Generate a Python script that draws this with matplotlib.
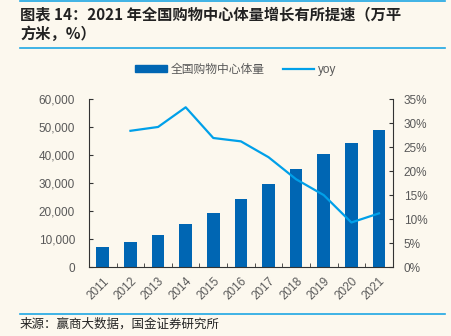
import matplotlib.pyplot as plt
from matplotlib.lines import Line2D
from matplotlib.patches import Patch
from matplotlib.ticker import FuncFormatter, MultipleLocator

plt.rcParams['font.family'] = ['Liberation Sans', 'Noto Sans CJK SC', 'DejaVu Sans']
plt.rcParams['xtick.top'] = False
plt.rcParams['xtick.minor.top'] = False
plt.rcParams['xtick.major.top'] = False

years = ["2011", "2012", "2013", "2014", "2015", "2016",
         "2017", "2018", "2019", "2020", "2021"]
volume = [7200, 8800, 11400, 15350, 19300, 24500,
          29600, 35200, 40450, 44400, 49100]
yoy_years = years[1:]
yoy = [28.4, 29.2, 33.3, 26.9, 26.2, 22.9, 18.3, 15.0, 9.3, 11.2]

bg = "#FCF8EE"
bar_color = "#0066B3"
line_color = "#00A0E9"
text_gray = "#595959"
axis_color = "#333333"

fig = plt.figure(figsize=(4.52, 3.36), dpi=100, facecolor=bg)
rect = [0.197, 0.205, 0.672, 0.50]
ax = fig.add_axes(rect)
ax.set_facecolor(bg)

x = list(range(len(years)))
ax.bar(x, volume, width=0.46, color=bar_color, zorder=2)
ax.set_xlim(-0.5, len(years) - 0.5)
ax.set_ylim(0, 60000)
ax.yaxis.set_major_locator(MultipleLocator(10000))
ax.yaxis.set_major_formatter(FuncFormatter(lambda v, p: f"{int(v):,}"))

# category labels plus small inward ticks between the bars
ax.set_xticks(x)
ax.set_xticklabels(years, rotation=45, ha="right", rotation_mode="anchor")
ax.set_xticks([i + 0.5 for i in x[:-1]], minor=True)
ax.tick_params(axis="x", which="both", top=False, labeltop=False)
ax.tick_params(axis="x", which="major", length=0, labelsize=8.5,
               labelcolor=text_gray, pad=6)
ax.tick_params(axis="x", which="minor", direction="in", length=3,
               color=axis_color)
ax.tick_params(axis="y", direction="in", length=3, labelsize=8.5,
               labelcolor=text_gray, pad=10, color=axis_color)
ax.spines["top"].set_visible(False)
ax.spines["right"].set_visible(False)
for s in ("left", "bottom"):
    ax.spines[s].set_color(axis_color)

# growth rate on its own overlay axes with the scale on the right
ax2 = fig.add_axes(rect, facecolor="none")
ax2.plot(list(range(1, len(years))), yoy, color=line_color, lw=1.6)
ax2.set_xlim(ax.get_xlim())
ax2.set_ylim(0, 35)
ax2.xaxis.set_visible(False)
ax2.yaxis.tick_right()
ax2.yaxis.set_major_locator(MultipleLocator(5))
ax2.yaxis.set_major_formatter(FuncFormatter(lambda v, p: f"{int(v)}%"))
ax2.tick_params(axis="y", direction="in", length=3, labelsize=8.5,
                labelcolor=text_gray, pad=8, color=axis_color)
for s in ("top", "left", "bottom"):
    ax2.spines[s].set_visible(False)
ax2.spines["right"].set_color(axis_color)

handles = [Patch(color=bar_color, label="全国购物中心体量"),
           Line2D([0], [0], color=line_color, lw=1.6, label="yoy")]
leg = fig.legend(handles=handles, loc="center", bbox_to_anchor=(0.522, 0.792),
                 ncol=2, frameon=False, fontsize=8.5, handlelength=2.7,
                 handleheight=0.5, columnspacing=1.5, handletextpad=0.3)
for t in leg.get_texts():
    t.set_color(text_gray)

# header and footer
cjk_font = ['Noto Sans CJK SC', 'DejaVu Sans']
fig.text(20 / 452, 1 - 14 / 336, "图表 14：2021 年全国购物中心体量增长有所提速（万平",
         fontsize=11, fontweight="bold", family=cjk_font, va="center",
         color="#222222")
fig.text(20 / 452, 1 - 34 / 336, "方米，%）",
         fontsize=11, fontweight="bold", family=cjk_font, va="center",
         color="#222222")
for y in (1, 48, 314):
    fig.add_artist(Line2D([20 / 452, 445 / 452], [1 - y / 336, 1 - y / 336],
                          color="#1EA7E4", lw=1.2, transform=fig.transFigure))
fig.text(20 / 452, 1 - 324 / 336, "来源：赢商大数据，国金证券研究所",
         fontsize=9, family=cjk_font, va="center", color="#222222")

fig.savefig("out.png", dpi=100, facecolor=bg)
